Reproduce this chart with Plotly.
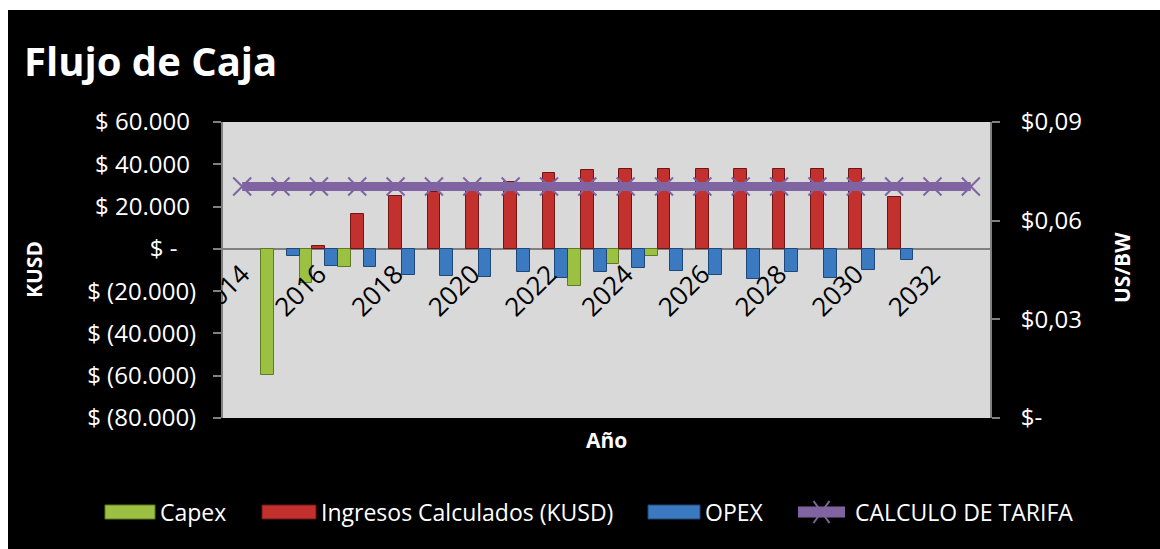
import plotly.graph_objects as go

# ---- data ----
years = [str(y) for y in range(2014, 2034)]
capex = [None, -59500, -16000, -8700, None, None, None, None, None, -17500,
         -7100, -3600, None, None, None, None, None, None, None, None]
ingresos = [None, None, 1400, 16600, 24800, 26900, 27600, 31800, 36100, 37400,
            37900, 37900, 37900, 37900, 37900, 37900, 37900, 24600, None, None]
opex = [None, -3200, -8200, -8700, -12300, -12900, -13400, -11000, -13700, -11000,
        -9000, -10600, -12300, -14400, -11000, -13900, -10100, -5200, None, None]
tarifa = [0.0704] * 20

left_ticks = [60000, 40000, 20000, 0, -20000, -40000, -60000, -80000]
left_text = ["$ 60.000 ", "$ 40.000 ", "$ 20.000 ", "$ -   ", "$ (20.000)",
             "$ (40.000)", "$ (60.000)", "$ (80.000)"]
right_ticks = [0.09, 0.06, 0.03, 0]
right_text = ["$0,09", "$0,06", "$0,03", "$-"]
year_ticks = [str(y) for y in range(2014, 2034, 2)]

series_names = ["Capex", "Ingresos Calculados (KUSD)", "OPEX", "CALCULO DE TARIFA"]
fill_colors = ["#9CC042", "#C2312E", "#3B79C0", "#8064A2"]
edge_colors = ["#5E7A22", "#6E1614", "#1E4878", "#8064A2"]

# ---- layout geometry (pixels) ----
W, H = 1160, 549
L, R, T, B = 223, 170, 122, 131
PW, PH = W - L - R, H - T - B


def px_x(x):
    return (x - L) / PW


def px_y(y):
    return (H - B - y) / PH


FONT = "Open Sans"
GRID = "#808080"

fig = go.Figure()

for name, vals, fc, ec in zip(series_names[:3], [capex, ingresos, opex],
                              fill_colors[:3], edge_colors[:3]):
    fig.add_trace(go.Bar(
        name=name, x=years, y=vals,
        marker=dict(color=fc, line=dict(color=ec, width=1)),
    ))

fig.add_trace(go.Scatter(
    name=series_names[3], x=years, y=tarifa, yaxis="y2",
    mode="lines+markers",
    line=dict(color=fill_colors[3], width=9),
    marker=dict(symbol="x-thin", size=18, color=fill_colors[3],
                line=dict(color=fill_colors[3], width=2)),
))

fig.update_layout(
    width=W, height=H, autosize=False,
    margin=dict(l=L, r=R, t=T, b=B),
    paper_bgcolor="#000000",
    plot_bgcolor="#D9D9D9",
    barmode="group", bargap=0, bargroupgap=0,
    font=dict(family=FONT, color="white", size=20),
    showlegend=False,
    xaxis=dict(
        type="category", categoryorder="array", categoryarray=years,
        range=[-0.5, 19.5],
        anchor="free", position=80000 / 140000,
        tickmode="array", tickvals=year_ticks, ticktext=year_ticks,
        tickangle=-45, ticks="", showline=False, showgrid=False,
        tickfont=dict(family=FONT, size=26, color="black"),
        ticklabelstandoff=4,
    ),
    yaxis=dict(
        range=[-80000, 60000], tickmode="array", tickvals=left_ticks, ticktext=left_text,
        showgrid=False, zeroline=True, zerolinecolor=GRID, zerolinewidth=2,
        showline=True, linecolor=GRID, linewidth=2,
        ticks="outside", ticklen=8, tickcolor=GRID, tickwidth=2,
        tickfont=dict(family=FONT, size=24, color="white"),
        ticklabelstandoff=12,
    ),
    yaxis2=dict(
        range=[0, 0.09], overlaying="y", side="right",
        tickmode="array", tickvals=right_ticks, ticktext=right_text,
        showgrid=False, zeroline=False,
        showline=True, linecolor=GRID, linewidth=2,
        ticks="outside", ticklen=8, tickcolor=GRID, tickwidth=2,
        tickfont=dict(family=FONT, size=24, color="white"),
        ticklabelstandoff=16,
    ),
)

# white strips around the chart box
fig.add_shape(type="rect", xref="paper", yref="paper", layer="above",
              x0=px_x(0), x1=px_x(8), y0=px_y(H), y1=px_y(0),
              fillcolor="white", line=dict(width=0))
fig.add_shape(type="rect", xref="paper", yref="paper", layer="above",
              x0=px_x(0), x1=px_x(W), y0=px_y(10), y1=px_y(0),
              fillcolor="white", line=dict(width=0))


def label(text, x, y, size, angle=0, xanchor="center"):
    fig.add_annotation(text=text, xref="paper", yref="paper",
                       x=px_x(x), y=px_y(y), xanchor=xanchor, yanchor="middle",
                       textangle=angle, showarrow=False,
                       font=dict(family=FONT, size=size, color="white"))


label("<b>Flujo de Caja</b>", 22, 60, 40, xanchor="left")
label("<b>KUSD</b>", 34, 270, 21, angle=-90)
label("<b>US/BW</b>", 1122, 268, 21, angle=-90)
label("<b>Año</b>", 606, 440, 21)

# ---- legend row ----
LEG_Y = 512
swatches = [(105, 155), (262, 316), (648, 700), (793, 850)]
for i, (name, (x0, x1)) in enumerate(zip(series_names, swatches)):
    if i < 3:
        fig.add_shape(type="rect", xref="paper", yref="paper", layer="above",
                      x0=px_x(x0), x1=px_x(x1), y0=px_y(LEG_Y + 7), y1=px_y(LEG_Y - 7),
                      fillcolor=fill_colors[i], line=dict(color=edge_colors[i], width=1))
    else:
        fig.add_shape(type="line", xref="paper", yref="paper", layer="above",
                      x0=px_x(x0 + 5), x1=px_x(x1 - 5), y0=px_y(LEG_Y), y1=px_y(LEG_Y),
                      line=dict(color=fill_colors[i], width=11))
        xm = (x0 + x1) / 2
        for dy in (-1, 1):
            fig.add_shape(type="line", xref="paper", yref="paper", layer="above",
                          x0=px_x(xm - 8), x1=px_x(xm + 8),
                          y0=px_y(LEG_Y - 11 * dy), y1=px_y(LEG_Y + 11 * dy),
                          line=dict(color=fill_colors[i], width=2))
    label(name, x1 + 3, LEG_Y, 23, xanchor="left")

fig.write_html("out.html")
